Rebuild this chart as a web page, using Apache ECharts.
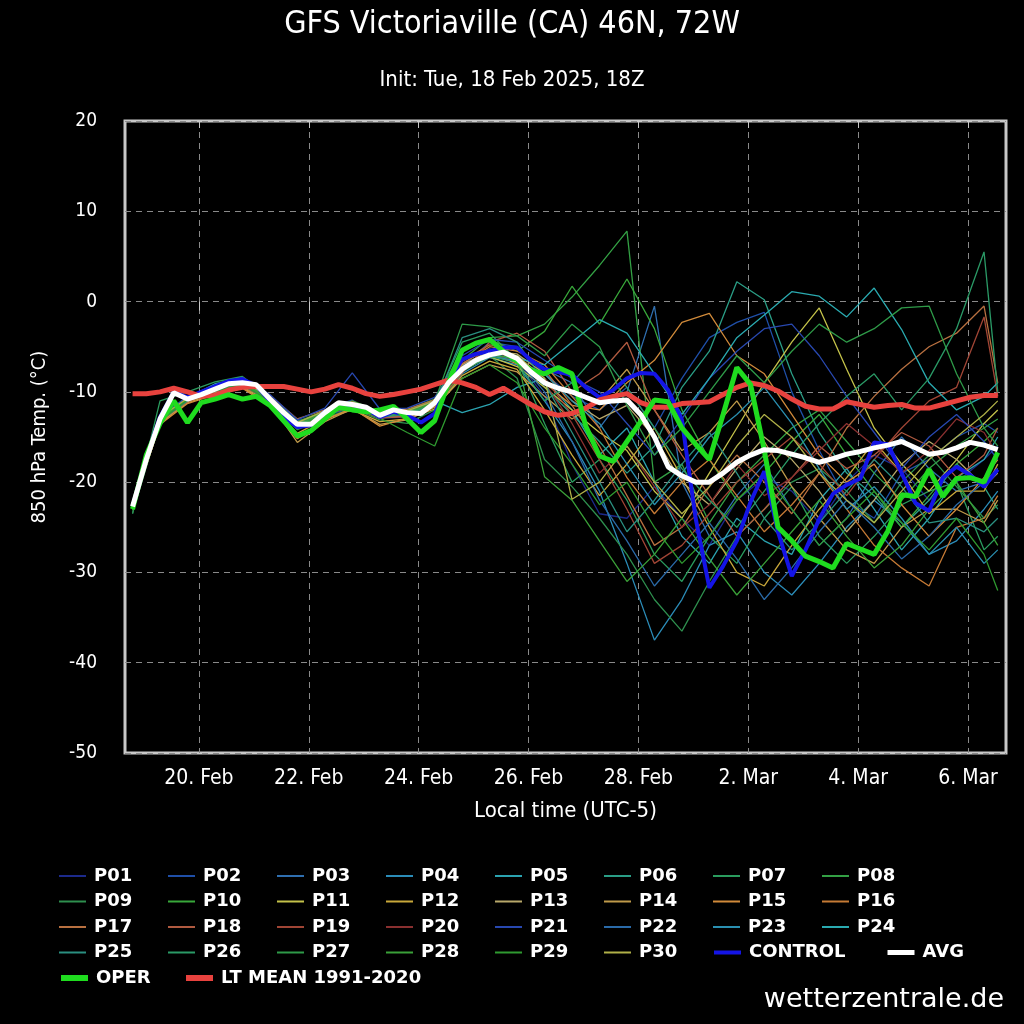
<!DOCTYPE html>
<html>
<head>
<meta charset="utf-8">
<script src="https://cdn.jsdelivr.net/npm/echarts@6/dist/echarts.min.js"></script>
<style>html,body{margin:0;padding:0;background:#000;}#c{width:1024px;height:1024px;}</style>
</head>
<body>
<div id="c"></div>
<script>
// x positions: hours since 18 Feb 2025 00:00 local time (UTC-5)
const tickHours = [48, 96, 144, 192, 240, 288, 336, 384];
const tickLabels = ['20. Feb', '22. Feb', '24. Feb', '26. Feb', '28. Feb', '2. Mar', '4. Mar', '6. Mar'];
const mainHours = Array.from({length: 64}, (_, k) => 19 + 6 * k);
const memberHours = Array.from({length: 32}, (_, k) => 19 + 12 * k).concat([397]);

const oper = [-23.0,-17.0,-13.5,-11.0,-13.4,-11.2,-10.8,-10.3,-10.8,-10.5,-11.5,-13.2,-14.9,-14.3,-13.0,-11.7,-12.0,-12.2,-12.0,-11.6,-13.0,-14.5,-13.2,-9.0,-5.4,-4.6,-4.2,-5.5,-6.6,-7.6,-8.0,-7.3,-8.0,-13.8,-17.1,-17.7,-15.5,-13.3,-10.9,-11.1,-14.0,-15.8,-17.5,-12.5,-7.3,-9.2,-16.5,-25.0,-26.5,-28.2,-28.8,-29.5,-26.8,-27.4,-28.0,-25.4,-21.4,-21.6,-18.6,-21.6,-19.6,-19.5,-20.0,-16.7];
const control = [-22.7,-17.3,-12.8,-10.0,-10.6,-10.0,-9.4,-8.8,-8.6,-9.3,-11.0,-12.8,-13.9,-13.7,-12.2,-11.4,-11.4,-11.9,-12.8,-12.2,-12.6,-13.4,-12.4,-9.0,-6.4,-5.8,-5.5,-5.1,-5.1,-6.5,-7.5,-7.8,-8.1,-9.5,-10.6,-9.8,-8.5,-7.9,-8.0,-9.8,-13.1,-24.0,-31.7,-29.3,-26.5,-22.2,-18.8,-25.5,-30.4,-27.5,-24.1,-21.3,-20.3,-19.6,-15.6,-15.8,-19.0,-22.3,-23.2,-19.5,-18.3,-19.2,-20.5,-18.6];
const avg = [-22.7,-17.5,-13.0,-10.1,-10.8,-10.3,-9.7,-9.1,-9.0,-9.2,-10.8,-12.3,-13.6,-13.6,-12.3,-11.2,-11.4,-11.7,-12.6,-12.0,-12.3,-12.4,-11.2,-9.0,-7.5,-6.5,-5.9,-5.6,-6.3,-7.8,-9.0,-9.6,-10.0,-10.6,-11.2,-11.0,-10.9,-12.5,-15.0,-18.3,-19.3,-20.0,-20.0,-19.0,-17.8,-17.0,-16.4,-16.5,-16.9,-17.3,-17.8,-17.4,-16.9,-16.6,-16.2,-15.9,-15.5,-16.2,-16.9,-16.7,-16.2,-15.6,-15.9,-16.4];
const ltMean = [-10.2,-10.2,-10.0,-9.6,-10.0,-10.5,-10.4,-9.8,-9.5,-9.4,-9.4,-9.4,-9.7,-10.0,-9.7,-9.2,-9.6,-10.2,-10.5,-10.3,-10.0,-9.7,-9.2,-8.7,-9.0,-9.5,-10.3,-9.6,-10.5,-11.4,-12.2,-12.6,-12.4,-11.8,-10.9,-10.5,-10.2,-11.2,-11.7,-11.7,-11.3,-11.2,-11.1,-10.3,-9.5,-9.0,-9.3,-9.9,-10.8,-11.6,-11.9,-11.9,-11.1,-11.4,-11.7,-11.5,-11.4,-11.8,-11.8,-11.4,-11.0,-10.6,-10.4,-10.4];

const P01 = [-22.5,-12.6,-11.2,-9.3,-8.8,-11.3,-13.9,-12.0,-10.9,-12.9,-12.8,-11.5,-6.8,-5.2,-6.5,-10.5,-18.0,-23.5,-24.0,-20.5,-24.0,-27.0,-22.0,-19.5,-21.0,-24.5,-20.0,-17.0,-18.5,-22.0,-20.0,-17.5,-16.0];
const P02 = [-22.6,-13.2,-10.5,-9.9,-8.6,-10.4,-13.2,-12.6,-11.8,-12.2,-12.0,-11.0,-7.2,-4.5,-5.0,-8.0,-10.5,-12.0,-9.5,-14.0,-8.5,-4.0,-2.3,-1.2,-10.0,-16.5,-22.0,-24.0,-19.0,-17.5,-15.0,-13.5,-14.5];
const P03 = [-22.8,-12.9,-10.9,-9.5,-9.2,-11.0,-13.5,-12.1,-11.2,-12.7,-12.5,-11.3,-7.0,-5.5,-6.0,-7.5,-9.0,-14.0,-10.0,-0.5,-20.0,-26.0,-21.5,-18.0,-23.0,-27.0,-24.0,-19.0,-15.0,-18.5,-21.0,-20.0,-18.5];
const P04 = [-22.7,-12.8,-10.6,-9.6,-9.0,-10.6,-13.8,-12.4,-11.5,-12.4,-12.0,-11.6,-8.0,-6.2,-7.0,-11.0,-15.5,-21.0,-29.0,-37.5,-33.0,-27.0,-25.5,-30.0,-32.5,-29.0,-25.0,-22.0,-24.5,-28.0,-26.5,-23.0,-21.0];
const P05 = [-22.6,-13.1,-10.7,-9.1,-8.5,-10.5,-13.4,-12.3,-11.4,-12.6,-12.2,-11.0,-12.3,-11.4,-9.5,-8.5,-12.0,-17.0,-14.0,-20.0,-26.0,-29.0,-24.0,-26.5,-28.0,-22.0,-18.5,-23.0,-27.5,-24.0,-19.5,-17.5,-15.0];
const P06 = [-22.9,-13.0,-11.0,-9.8,-9.1,-10.9,-13.7,-12.2,-11.6,-12.8,-12.6,-11.1,-7.3,-5.8,-6.0,-9.5,-12.5,-15.5,-19.0,-16.0,-9.5,-5.5,2.2,0.2,-8.0,-14.5,-19.0,-21.5,-25.0,-22.0,-18.0,-20.5,-23.0];
const P07 = [-23.5,-11.0,-10.0,-8.9,-8.3,-10.6,-13.6,-12.4,-11.3,-12.4,-12.3,-11.2,-4.5,-3.5,-6.5,-13.5,-20.0,-17.5,-22.0,-28.0,-31.0,-26.0,-29.0,-24.0,-20.5,-26.0,-29.0,-26.0,-22.5,-21.0,-20.0,-27.5,-26.0];
const P08 = [-23.0,-12.7,-11.1,-9.6,-8.8,-11.1,-13.9,-12.7,-11.2,-12.5,-12.5,-11.5,-6.5,-4.0,-3.8,-2.5,0.5,4.0,7.8,-20.0,-18.0,-24.5,-20.0,-17.0,-14.0,-12.0,-15.5,-19.0,-22.0,-18.5,-16.0,-14.0,-13.0];
const P09 = [-23.4,-13.3,-10.9,-9.4,-9.2,-11.2,-14.2,-12.9,-11.8,-13.1,-13.5,-12.0,-7.8,-6.0,-8.5,-17.5,-20.5,-24.0,-28.0,-33.0,-36.5,-31.0,-26.0,-23.0,-20.0,-18.5,-21.0,-24.5,-20.0,-17.0,-20.5,-24.0,-22.5];
const P10 = [-23.1,-12.9,-10.6,-9.3,-8.7,-10.7,-13.3,-12.1,-11.0,-12.2,-12.0,-10.8,-5.5,-4.2,-5.5,-3.3,1.7,-2.5,2.5,-3.0,-12.0,-17.5,-22.0,-19.0,-15.5,-12.5,-17.0,-21.0,-25.0,-21.5,-18.0,-15.5,-14.0];
const P11 = [-22.5,-12.7,-10.8,-9.7,-9.1,-10.8,-13.5,-12.2,-11.4,-12.7,-12.4,-11.3,-7.6,-6.1,-7.2,-9.5,-12.0,-14.5,-16.5,-21.0,-24.0,-19.0,-14.0,-9.0,-4.5,-0.7,-7.5,-14.0,-18.0,-21.0,-17.5,-13.5,-12.0];
const P12 = [-22.7,-13.4,-11.2,-10.2,-9.5,-11.4,-14.6,-13.0,-12.0,-13.3,-13.0,-11.9,-8.2,-6.6,-7.5,-12.0,-17.0,-21.5,-18.0,-14.0,-19.5,-25.0,-30.0,-31.5,-27.0,-23.0,-19.5,-15.5,-19.0,-23.5,-21.0,-21.0,-18.0];
const P13 = [-22.6,-13.0,-10.7,-9.8,-9.3,-10.9,-13.4,-12.4,-11.6,-12.9,-12.4,-11.0,-7.0,-5.5,-5.8,-8.0,-11.0,-13.0,-11.5,-15.0,-20.0,-22.5,-18.5,-15.0,-17.5,-21.0,-25.5,-22.0,-18.0,-15.5,-17.5,-20.5,-19.0];
const P14 = [-22.8,-13.5,-11.0,-10.0,-9.4,-11.2,-15.6,-13.3,-11.9,-13.6,-13.1,-11.7,-8.5,-7.0,-7.8,-10.5,-13.0,-11.0,-7.5,-12.0,-16.5,-14.5,-11.0,-15.5,-20.5,-24.0,-27.5,-29.0,-25.0,-23.0,-23.0,-24.5,-22.0];
const P15 = [-22.7,-13.6,-11.3,-10.3,-9.6,-11.6,-15.2,-13.1,-11.8,-13.8,-12.9,-11.4,-7.4,-5.7,-6.9,-9.0,-11.5,-12.0,-9.0,-6.5,-2.3,-1.3,-6.0,-8.0,-12.5,-17.0,-20.0,-18.0,-22.5,-26.0,-23.0,-19.5,-17.5];
const P16 = [-22.6,-13.1,-10.9,-9.9,-9.2,-11.0,-14.0,-12.6,-11.5,-12.8,-12.7,-11.6,-6.9,-5.0,-5.5,-7.0,-10.5,-14.0,-19.5,-23.5,-20.0,-17.5,-21.5,-25.5,-22.5,-19.0,-23.0,-27.0,-29.5,-31.5,-25.0,-24.0,-21.5];
const P17 = [-22.4,-12.8,-10.6,-9.5,-8.9,-10.4,-13.0,-12.0,-11.1,-12.3,-11.9,-10.9,-6.6,-4.8,-5.2,-7.5,-11.5,-16.0,-21.5,-27.0,-25.0,-20.5,-17.0,-20.0,-23.5,-19.0,-14.0,-10.5,-7.5,-5.0,-3.5,-0.5,-9.0];
const P18 = [-22.6,-13.2,-11.1,-10.0,-9.3,-11.0,-13.7,-12.5,-11.7,-12.9,-12.7,-11.5,-7.9,-4.5,-3.5,-5.5,-10.0,-8.0,-4.5,-12.0,-17.0,-21.5,-26.0,-23.0,-19.5,-16.0,-18.5,-17.0,-14.5,-16.0,-19.5,-17.0,-14.0];
const P19 = [-22.5,-12.9,-10.7,-9.6,-9.0,-10.7,-13.5,-12.3,-11.4,-12.6,-12.3,-11.2,-7.3,-5.6,-6.2,-8.5,-12.5,-17.5,-23.0,-29.0,-27.0,-23.5,-20.0,-17.5,-15.0,-18.0,-21.5,-17.5,-14.0,-11.0,-9.5,-1.7,-10.5];
const P20 = [-22.7,-13.0,-10.8,-9.8,-9.1,-10.8,-13.6,-12.4,-11.5,-12.6,-12.4,-11.2,-7.6,-6.0,-6.5,-9.0,-13.5,-19.0,-16.0,-20.5,-25.0,-22.5,-18.0,-21.5,-19.5,-16.5,-13.5,-16.0,-19.0,-16.5,-13.0,-14.5,-17.0];
const P21 = [-22.8,-12.8,-10.5,-9.4,-8.4,-10.3,-13.1,-11.8,-7.9,-11.9,-11.8,-10.6,-6.0,-4.2,-4.5,-6.5,-8.5,-10.0,-13.5,-17.0,-13.0,-8.5,-5.5,-3.0,-2.5,-6.0,-10.5,-14.5,-18.5,-15.0,-12.5,-15.5,-17.5];
const P22 = [-22.6,-13.0,-10.9,-9.7,-9.0,-10.7,-13.6,-12.2,-11.3,-12.5,-12.2,-11.0,-7.4,-5.8,-6.4,-10.0,-15.5,-22.0,-26.5,-31.5,-28.0,-24.5,-28.5,-33.0,-29.5,-25.5,-22.0,-25.0,-28.5,-26.0,-22.5,-20.0,-18.5];
const P23 = [-22.7,-13.1,-10.8,-9.8,-9.1,-10.9,-13.7,-12.4,-11.5,-12.7,-12.3,-11.3,-7.5,-6.0,-6.6,-8.0,-11.0,-13.5,-18.0,-22.5,-19.0,-15.0,-12.5,-9.5,-13.5,-18.5,-23.0,-20.5,-24.0,-28.0,-25.0,-29.0,-27.5];
const P24 = [-22.6,-13.0,-10.7,-9.7,-9.0,-10.8,-13.5,-12.3,-11.4,-12.6,-12.3,-11.2,-7.4,-5.9,-6.3,-7.0,-4.5,-2.0,-3.5,-8.0,-12.5,-8.5,-4.0,-1.5,1.1,0.6,-1.7,1.5,-3.1,-9.0,-12.0,-10.5,-9.0];
const P25 = [-22.8,-13.2,-11.0,-9.9,-9.2,-11.0,-13.8,-12.5,-11.6,-12.8,-12.5,-11.4,-4.0,-3.0,-4.5,-9.0,-14.5,-20.0,-25.5,-22.0,-18.0,-14.5,-19.0,-24.0,-27.5,-24.5,-21.0,-17.5,-20.5,-24.5,-24.0,-25.5,-24.0];
const P26 = [-22.9,-13.1,-10.9,-9.8,-9.1,-10.9,-13.7,-12.4,-11.5,-12.7,-12.4,-11.3,-7.6,-6.1,-6.7,-11.0,-9.0,-5.5,-9.5,-14.0,-18.5,-22.0,-25.0,-21.0,-17.0,-13.5,-10.5,-8.0,-12.0,-8.5,-3.0,5.5,-10.0];
const P27 = [-22.7,-12.9,-10.8,-9.6,-8.9,-10.7,-13.5,-12.2,-11.3,-12.5,-12.2,-11.1,-2.5,-2.8,-3.8,-6.0,-2.5,-5.0,-11.5,-17.0,-14.0,-10.0,-6.0,-9.0,-5.5,-2.5,-4.5,-3.0,-0.7,-0.5,-8.0,-14.0,-16.0];
const P28 = [-23.0,-13.0,-10.7,-9.7,-9.0,-10.8,-13.6,-12.3,-11.4,-12.6,-12.3,-11.2,-7.5,-5.9,-6.3,-19.4,-22.0,-26.5,-31.0,-28.0,-24.0,-28.5,-32.5,-29.0,-25.5,-22.0,-26.0,-29.5,-27.0,-23.0,-20.0,-24.5,-27.0];
const P29 = [-23.1,-13.2,-10.9,-9.9,-9.2,-11.0,-13.8,-12.5,-11.6,-12.9,-14.5,-16.0,-8.5,-7.0,-9.0,-14.0,-18.0,-22.5,-20.0,-25.0,-29.0,-26.0,-22.0,-19.0,-23.0,-27.0,-24.0,-21.0,-24.5,-27.5,-24.0,-28.0,-32.0];
const P30 = [-22.6,-12.8,-10.7,-9.5,-8.8,-10.6,-13.4,-12.1,-11.2,-12.4,-12.1,-11.0,-7.2,-5.7,-6.0,-8.5,-21.9,-20.0,-16.0,-20.0,-23.5,-20.5,-16.0,-12.5,-15.0,-19.0,-22.0,-24.5,-21.0,-17.5,-15.0,-12.5,-11.0];

const memberNames = ['P01','P02','P03','P04','P05','P06','P07','P08','P09','P10','P11','P12','P13','P14','P15','P16','P17','P18','P19','P20','P21','P22','P23','P24','P25','P26','P27','P28','P29','P30'];
const memberValues = [P01,P02,P03,P04,P05,P06,P07,P08,P09,P10,P11,P12,P13,P14,P15,P16,P17,P18,P19,P20,P21,P22,P23,P24,P25,P26,P27,P28,P29,P30];
const memberColors = ['#1c2a8c','#1f4fa8','#2f6fb0','#2b8cb8','#2ba3b0','#2a9e86','#2a9c5e','#33a044','#2e8f4e','#38a83a',
  '#c4c24a','#c9a83a','#b8a86a','#bf9a4a','#d08a3a','#c57a35','#b87040','#b05a40','#a04535','#8a3030',
  '#2848b0','#2a6aa8','#2a8fb0','#2aaab0','#2a8f80','#2a9a66','#2e9a48','#3aa038','#2f9a30','#b0b048'];

const condensed = "'DejaVu Sans Condensed', 'Liberation Sans Narrow', 'DejaVu Sans', sans-serif";
const legendFont = "'DejaVu Sans', sans-serif";

const series = [];
memberNames.forEach((n, i) => {
  series.push({
    name: n, type: 'line', symbol: 'none', silent: true, z: 2,
    lineStyle: {width: 1.3, color: memberColors[i]}, itemStyle: {color: memberColors[i]},
    data: memberHours.map((h, j) => [h, memberValues[i][j]])
  });
});
function mainSeries(name, vals, color, width, z) {
  return {name, type: 'line', symbol: 'none', silent: true, z,
    lineStyle: {width, color}, itemStyle: {color},
    data: mainHours.map((h, j) => [h, vals[j]])};
}
series.push(mainSeries('CONTROL', control, '#1414e6', 4, 3));
series.push(mainSeries('LT MEAN 1991-2020', ltMean, '#e8423e', 5, 4));
series.push(mainSeries('OPER', oper, '#1fdc1f', 5, 5));
series.push(mainSeries('AVG', avg, '#ffffff', 5, 6));

// legend layout: 8 columns of members (rows 1-4), special items placed individually
const legendCols = [
  ['P01','P09','P17','P25'],
  ['P02','P10','P18','P26'],
  ['P03','P11','P19','P27'],
  ['P04','P12','P20','P28'],
  ['P05','P13','P21','P29'],
  ['P06','P14','P22','P30'],
  ['P07','P15','P23'],
  ['P08','P16','P24']
];
const rowTop = 866, rowStep = 25.5;
function legendBase(left, top, names, lw) {
  return {
    orient: 'vertical', left, top,
    itemWidth: 27, itemHeight: 14, itemGap: rowStep - 20, padding: 0,
    selectedMode: false, data: names,
    itemStyle: {opacity: 0},
    lineStyle: {width: lw},
    textStyle: {color: '#fff', fontSize: 18, lineHeight: 20, fontWeight: 'bold', fontFamily: legendFont, padding: [0, 0, 0, 3]}
  };
}
const legends = legendCols.map((names, c) => legendBase(58 + 109 * c, rowTop, names, 2));
legends.push(legendBase(712, rowTop + 3 * rowStep, ['CONTROL'], 4));
legends.push(legendBase(885, rowTop + 3 * rowStep, ['AVG'], 5));
legends.push(legendBase(58, rowTop + 4 * rowStep, ['OPER'], 6));
legends.push(legendBase(183, rowTop + 4 * rowStep, ['LT MEAN 1991-2020'], 6));

const chart = echarts.init(document.getElementById('c'), null, {renderer: 'canvas'});
chart.setOption({
  backgroundColor: '#000',
  animation: false,
  title: [
    {text: 'GFS Victoriaville (CA) 46N, 72W', left: 'center', top: 4,
     textStyle: {color: '#fff', fontSize: 32, fontWeight: 'normal', fontFamily: condensed}},
    {text: 'Init: Tue, 18 Feb 2025, 18Z', left: 'center', top: 64,
     textStyle: {color: '#fff', fontSize: 22, fontWeight: 'normal', fontFamily: condensed}}
  ],
  legend: legends,
  grid: {left: 125, right: 18, top: 121, bottom: 271, show: true, borderColor: '#c8c8c8', borderWidth: 3, containLabel: false},
  xAxis: [
    {type: 'value', position: 'bottom', min: 15.7, max: 400.6,
     name: 'Local time (UTC-5)', nameLocation: 'middle', nameGap: 47,
     nameTextStyle: {color: '#fff', fontSize: 22, fontFamily: condensed},
     axisLine: {show: false},
     axisTick: {show: true, customValues: tickHours, length: 9, inside: false, lineStyle: {color: '#c8c8c8', width: 1}},
     axisLabel: {customValues: tickHours, color: '#fff', fontSize: 21, fontFamily: condensed, margin: 15,
       formatter: v => tickLabels[tickHours.indexOf(v)] || ''},
     splitLine: {show: true, lineStyle: {color: '#8a8a8a', width: 1, type: [6, 5]}}
    },
    {type: 'value', position: 'top', min: 15.7, max: 400.6,
     axisLine: {show: false},
     axisTick: {show: true, customValues: tickHours, length: 7, inside: true, lineStyle: {color: '#c8c8c8', width: 1}},
     axisLabel: {show: false},
     splitLine: {show: false}
    }
  ],
  yAxis: {
    type: 'value', min: -50, max: 20, interval: 10,
    name: '850 hPa Temp. (°C)', nameLocation: 'middle', nameGap: 75,
    nameTextStyle: {color: '#fff', fontSize: 20, fontFamily: condensed},
    axisLine: {show: false}, axisTick: {show: false},
    axisLabel: {color: '#fff', fontSize: 19, fontFamily: condensed, margin: 28},
    splitLine: {show: true, lineStyle: {color: '#8a8a8a', width: 1, type: [6, 5]}}
  },
  graphic: [{
    type: 'text', right: 20, top: 986,
    style: {text: 'wetterzentrale.de', fill: '#fff', fontSize: 27, fontFamily: legendFont}
  }],
  series: series
});
</script>
</body>
</html>
